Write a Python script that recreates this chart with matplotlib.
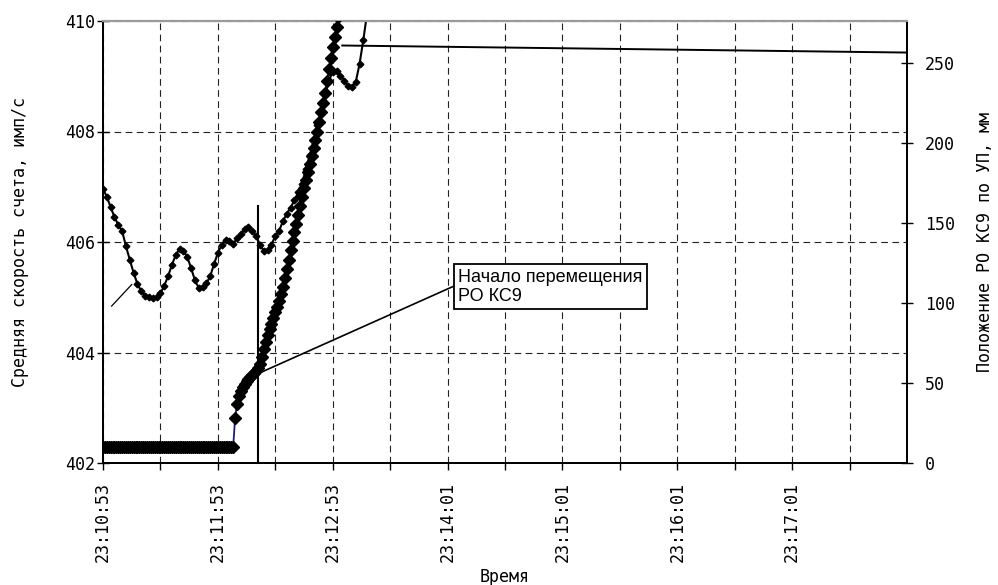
import numpy as np
import matplotlib
matplotlib.use("Agg")
import matplotlib.pyplot as plt

# ---------------- data ----------------
# x axis: sample number (category axis), tick every 30 samples, label every 60
tick_labels = ['23:10:53', '23:11:53', '23:12:53', '23:14:01',
               '23:15:01', '23:16:01', '23:17:01']

# average count rate, imp/s (left axis), one value every 2 samples
rate_val = [406.96, 406.82, 406.63, 406.45, 406.31, 406.20, 405.92, 405.68, 405.44, 405.24,
            405.11, 405.03, 405.00, 404.99, 405.00, 405.07, 405.21, 405.38, 405.59, 405.76,
            405.88, 405.84, 405.73, 405.53, 405.31, 405.17, 405.19, 405.25, 405.38, 405.60,
            405.80, 405.95, 406.04, 406.02, 405.96, 406.07, 406.14, 406.24, 406.27, 406.20,
            406.11, 405.95, 405.84, 405.86, 405.95, 406.11, 406.20, 406.38, 406.51, 406.62,
            406.76, 406.90, 407.05, 407.33, 407.57, 407.83, 408.11, 408.38, 408.66, 408.92,
            409.08, 409.09, 409.01, 408.92, 408.83, 408.81, 408.89, 409.22, 409.66, 410.15]
rate_t = np.arange(len(rate_val)) * 2

# control rod position, mm (right axis), one value per sample
pos_val = [10, 10, 10, 10, 10, 10, 10, 10, 10, 10, 10, 10, 10, 10, 10, 10, 10, 10, 10, 10,
           10, 10, 10, 10, 10, 10, 10, 10, 10, 10, 10, 10, 10, 10, 10, 10, 10, 10, 10, 10,
           10, 10, 10, 10, 10, 10, 10, 10, 10, 10, 10, 10, 10, 10, 10, 10, 10, 10, 10, 10,
           10, 10, 10, 10, 10, 10, 10, 10, 10,
           28, 37, 42, 45, 47.5, 49.5, 51, 52.5, 54, 55, 56, 57.5, 59.5, 62, 66.5, 71,
           75.5, 80, 83.5, 87, 90.5, 94, 97.5, 101, 105.5, 110, 115.5, 121, 127, 133,
           138.5, 144, 149.5, 155, 160.5, 166, 171.5, 177, 182, 187, 192, 197, 202, 207,
           213, 219, 225, 231, 238.5, 246, 253, 260, 266, 272, 278.5, 285]
pos_t = np.arange(len(pos_val))

# position after the end of movement
pos_tail_t = [125, 420]
pos_tail_val = [260.7, 256.3]

# annotation anchors
move_start_t = 81.2
move_line_top = 406.65
callout_point = (83.1, 403.65)
callout_text_pos = (185.5, 405.19)
orphan_leader = [(4.5, 404.84), (15.0, 405.23)]

# ---------------- figure ----------------
W, H = 998, 585
fig = plt.figure(figsize=(W / 100, H / 100), dpi=100)
ax = fig.add_axes([103 / W, 1 - 463 / H, 804 / W, 442 / H])
ax2 = ax.twinx()

mono = ['DejaVu Sans Mono', 'DejaVu Sans']
fs = 12

ax.set_xlim(0, 420)
ax.set_ylim(402, 410)
ax2.set_ylim(0, 276)

# ticks
ax.set_xticks(np.arange(0, 361, 60))
ax.set_xticks(np.arange(30, 421, 60), minor=True)
ax.set_xticklabels(tick_labels, rotation=90, fontsize=fs, family=mono)
ax.tick_params(axis='x', which='both', direction='out', length=5, width=1, pad=9)
ax.set_yticks([402, 404, 406, 408, 410])
ax.set_yticklabels(['402', '404', '406', '408', '410'], fontsize=fs, family=mono)
ax.tick_params(axis='y', direction='inout', length=8, width=1, pad=2)
ax2.set_yticks([0, 50, 100, 150, 200, 250])
ax2.set_yticklabels(['0', '50', '100', '150', '200', '250'], fontsize=fs, family=mono)
ax2.tick_params(axis='y', direction='inout', length=8, width=1, pad=9)

# grid
gkw = dict(color='#222222', lw=0.8, ls=(0, (6, 4)))
ax.grid(True, axis='x', which='both', **gkw)
ax.grid(True, axis='y', which='major', **gkw)
ax.set_axisbelow(True)

# spines
for a in (ax, ax2):
    for s in ('left', 'bottom', 'right'):
        a.spines[s].set_color('black')
        a.spines[s].set_linewidth(1.3)
    a.spines['top'].set_color('#9a9a9a')
    a.spines['top'].set_linewidth(1.5)

# series
ax.plot(rate_t, rate_val, color='black', lw=1.5, marker='D', ms=3.4,
        mfc='black', mec='black', zorder=3)
ax2.plot(pos_t, pos_val, color='#1c1c78', lw=1.3, marker='D', ms=6.4,
         mfc='black', mec='black', zorder=3)
ax2.plot(pos_tail_t, pos_tail_val, color='black', lw=1.4, zorder=3)

# annotations (drawn in left-axis coordinates on the top axes)
ax2.plot([move_start_t, move_start_t], [402, move_line_top], color='black', lw=1.5,
         transform=ax.transData, clip_on=False, zorder=4)
ax2.plot([orphan_leader[0][0], orphan_leader[1][0]],
         [orphan_leader[0][1], orphan_leader[1][1]], color='black', lw=0.9,
         transform=ax.transData, zorder=4)
ax2.annotate('Начало перемещения\nРО КС9', xy=callout_point, xycoords=ax.transData,
             xytext=callout_text_pos, textcoords=ax.transData,
             ha='left', va='center', fontsize=13, family=['Liberation Sans', 'DejaVu Sans'],
             linespacing=1.15,
             bbox=dict(boxstyle='square,pad=0.25', fc='white', ec='black', lw=1.3),
             arrowprops=dict(arrowstyle='-', color='black', lw=1.2, shrinkA=0, shrinkB=0,
                             relpos=(0, 0.57)),
             zorder=6)

# axis titles
fig.text(505 / W, 1 - 577 / H, 'Время', ha='center', va='center', fontsize=fs, family=mono)
fig.text(20 / W, 1 - 242 / H, 'Средняя скорость счета, имп/с', rotation=90,
         ha='center', va='center', fontsize=fs, family=mono)
fig.text(985 / W, 1 - 242 / H, 'Положение РО КС9 по УП, мм', rotation=90,
         ha='center', va='center', fontsize=fs, family=mono)

fig.savefig('out.png', dpi=100)
